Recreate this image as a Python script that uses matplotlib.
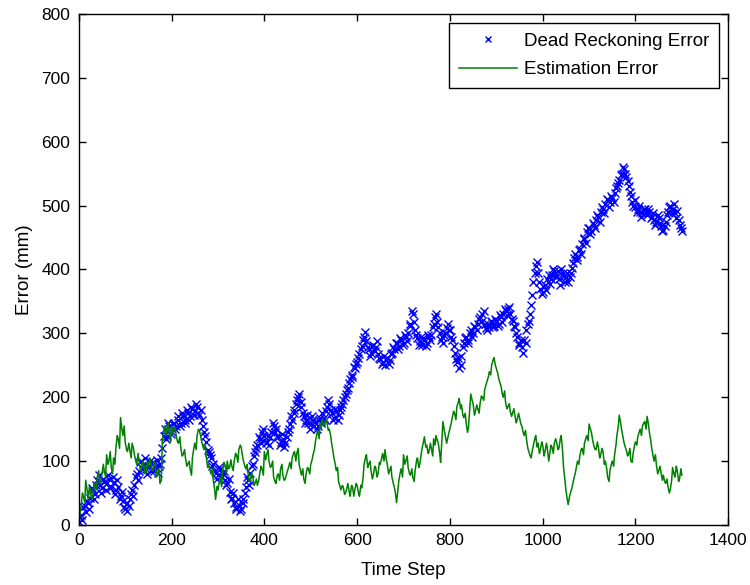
import numpy as np
import matplotlib
matplotlib.use("Agg")
import matplotlib.pyplot as plt

# errors sampled on two interleaved grids: t = 0,5,...,1300 and t = 3,8,...,1298
step = np.arange(0, 1301, 5)
step_mid = np.arange(3, 1300, 5)

dead_reckoning = [
    5, 15, 28, 20, 35, 42, 55, 48, 70, 62, 58, 68, 65, 72, 60, 68, 55, 60, 45, 38,
    25, 22, 40, 55, 62, 80, 85, 100, 95, 88, 92, 85, 98, 90, 82, 95, 120, 150, 140, 155,
    145, 160, 155, 165, 160, 170, 165, 175, 170, 182, 178, 185, 172, 165, 145, 130, 115, 105, 95, 82,
    78, 88, 80, 70, 65, 52, 42, 35, 28, 32, 25, 40, 60, 70, 82, 95, 115, 125, 135, 145,
    140, 130, 125, 145, 155, 150, 138, 130, 135, 128, 145, 158, 165, 180, 195, 205, 185, 170, 165, 160,
    158, 165, 162, 155, 168, 175, 165, 185, 190, 175, 168, 178, 172, 185, 195, 205, 215, 228, 235, 245,
    255, 268, 280, 295, 288, 275, 270, 282, 278, 268, 260, 255, 250, 262, 258, 270, 275, 285, 280, 290,
    285, 295, 300, 315, 330, 305, 292, 288, 282, 290, 285, 295, 298, 315, 330, 310, 290, 285, 300, 315,
    305, 290, 270, 255, 245, 265, 285, 295, 290, 305, 300, 310, 315, 325, 330, 315, 305, 310, 318, 312,
    320, 315, 325, 330, 335, 338, 330, 320, 310, 295, 282, 278, 290, 305, 320, 345, 380, 405, 395, 370,
    365, 375, 385, 378, 392, 398, 390, 385, 400, 390, 388, 380, 395, 410, 425, 420, 432, 440, 450, 458,
    465, 460, 470, 478, 482, 490, 495, 502, 508, 505, 512, 520, 530, 540, 550, 558, 545, 530, 515, 500,
    498, 495, 490, 488, 495, 485, 490, 482, 478, 475, 480, 468, 462, 475, 490, 500, 495, 488, 492, 470,
    460,
]
dead_reckoning_mid = [
    12, 8, 30, 38, 25, 58, 40, 62, 78, 50, 72, 55, 78, 58, 75, 48, 70, 40, 52, 28,
    35, 30, 48, 45, 75, 70, 98, 88, 105, 80, 100, 95, 85, 102, 92, 105, 140, 135, 160, 142,
    158, 150, 170, 155, 175, 160, 180, 165, 185, 172, 190, 175, 180, 155, 140, 118, 110, 92, 85, 72,
    90, 75, 85, 62, 72, 40, 50, 25, 40, 22, 35, 50, 75, 62, 92, 108, 120, 138, 128, 150,
    128, 140, 138, 160, 145, 140, 125, 142, 122, 138, 150, 170, 175, 190, 200, 192, 175, 160, 172, 150,
    170, 155, 150, 165, 160, 168, 178, 195, 180, 165, 182, 165, 180, 190, 200, 212, 222, 232, 248, 252,
    262, 275, 290, 302, 278, 265, 280, 272, 288, 262, 252, 265, 258, 252, 268, 278, 285, 275, 292, 282,
    298, 288, 312, 335, 318, 298, 282, 295, 292, 280, 298, 290, 310, 325, 318, 300, 295, 298, 308, 305,
    295, 280, 260, 262, 250, 278, 292, 285, 300, 295, 312, 305, 322, 318, 335, 308, 315, 320, 310, 322,
    312, 328, 318, 338, 328, 342, 322, 312, 300, 285, 290, 270, 285, 315, 330, 360, 395, 412, 380, 362,
    372, 368, 392, 385, 400, 388, 398, 375, 395, 380, 395, 388, 402, 418, 415, 430, 425, 448, 442, 465,
    455, 472, 465, 485, 475, 498, 488, 510, 498, 515, 505, 528, 535, 548, 560, 550, 538, 522, 505, 508,
    490, 500, 482, 495, 488, 495, 480, 488, 470, 485, 472, 460, 468, 485, 498, 488, 502, 480, 478, 465,
]

estimation = [
    0, 30, 45, 70, 40, 55, 45, 60, 75, 65, 80, 85, 110, 100, 90, 105, 120, 135, 168, 140,
    130, 115, 118, 128, 110, 95, 100, 88, 95, 82, 92, 98, 88, 92, 80, 65, 130, 155, 150, 145,
    155, 148, 140, 128, 120, 110, 105, 95, 88, 105, 128, 140, 148, 130, 118, 105, 95, 80, 70, 40,
    55, 75, 85, 95, 100, 90, 92, 100, 110, 118, 122, 100, 88, 80, 70, 75, 65, 62, 80, 88,
    115, 110, 100, 92, 75, 65, 80, 88, 78, 72, 85, 98, 105, 115, 112, 95, 78, 72, 80, 88,
    95, 110, 130, 148, 160, 165, 155, 160, 150, 128, 105, 85, 68, 55, 60, 50, 65, 45, 60, 55,
    62, 45, 58, 95, 110, 95, 85, 78, 90, 80, 95, 112, 118, 95, 85, 75, 60, 35, 70, 88,
    110, 100, 90, 78, 75, 85, 105, 95, 120, 138, 125, 115, 120, 135, 140, 128, 98, 162, 140, 135,
    150, 168, 175, 185, 198, 188, 168, 160, 152, 205, 190, 178, 182, 190, 200, 212, 225, 240, 250, 262,
    245, 230, 218, 200, 192, 185, 178, 175, 172, 165, 168, 155, 140, 135, 115, 105, 125, 140, 128, 118,
    125, 115, 120, 110, 122, 128, 130, 120, 140, 90, 55, 32, 50, 65, 80, 100, 108, 120, 128, 140,
    158, 145, 125, 118, 122, 110, 115, 100, 75, 85, 100, 110, 140, 172, 150, 130, 118, 110, 100, 112,
    130, 138, 150, 155, 162, 170, 145, 120, 100, 95, 85, 82, 78, 65, 60, 55, 90, 75, 85, 72,
    78,
]
estimation_mid = [
    20, 50, 35, 55, 60, 40, 65, 55, 85, 70, 95, 75, 95, 115, 80, 95, 140, 120, 150, 155,
    118, 128, 105, 120, 100, 112, 85, 100, 80, 98, 105, 85, 100, 75, 88, 70, 148, 140, 160, 130,
    142, 152, 130, 138, 108, 118, 92, 100, 78, 120, 118, 150, 138, 122, 125, 90, 85, 88, 55, 60,
    68, 60, 98, 82, 88, 102, 85, 112, 98, 125, 108, 92, 95, 68, 82, 62, 72, 70, 92, 78,
    102, 118, 90, 100, 68, 78, 70, 95, 70, 80, 92, 88, 112, 100, 120, 85, 88, 65, 90, 80,
    102, 118, 142, 135, 152, 158, 165, 148, 140, 115, 95, 90, 60, 62, 48, 58, 52, 62, 45, 65,
    50, 62, 75, 105, 90, 100, 72, 92, 75, 98, 105, 100, 102, 80, 92, 65, 48, 55, 82, 75,
    95, 108, 80, 88, 68, 100, 90, 110, 130, 122, 112, 128, 108, 125, 132, 112, 135, 148, 128, 145,
    160, 178, 165, 192, 182, 172, 175, 145, 185, 195, 172, 188, 175, 202, 195, 220, 232, 235, 258, 250,
    238, 222, 205, 210, 182, 190, 170, 182, 160, 175, 158, 145, 148, 120, 108, 118, 135, 122, 112, 130,
    108, 128, 100, 125, 112, 135, 118, 135, 115, 70, 40, 45, 58, 75, 92, 95, 118, 110, 135, 132,
    150, 132, 118, 130, 105, 120, 95, 88, 68, 95, 92, 125, 155, 160, 138, 122, 108, 120, 98, 125,
    125, 145, 140, 160, 150, 158, 132, 108, 110, 80, 92, 70, 68, 72, 50, 70, 80, 92, 68, 88,
]

# merge the two grids into one time-ordered series
t_all = np.concatenate([step, step_mid])
order = np.argsort(t_all, kind='stable')
t_all = t_all[order]
dr_all = np.concatenate([dead_reckoning, dead_reckoning_mid])[order]
est_all = np.concatenate([estimation, estimation_mid])[order]

plt.rcParams['font.family'] = ['Liberation Sans', 'DejaVu Sans']

fig = plt.figure(figsize=(7.5, 5.85), dpi=100)
ax = fig.add_axes([0.105, 0.1026, 0.866, 0.8735])

ax.plot(t_all, dr_all, linestyle='none', marker='x', color='#0000ff',
        markersize=6, markeredgewidth=1.0, label='Dead Reckoning Error')
ax.plot(t_all, est_all, color='#008000', linewidth=1.1, label='Estimation Error')

ax.set_xlim(0, 1400)
ax.set_ylim(0, 800)
ax.set_xticks(np.arange(0, 1401, 200))
ax.set_yticks(np.arange(0, 801, 100))
ax.tick_params(direction='in', top=True, right=True, length=5, width=1,
               labelsize=12.5, pad=6)
for sp in ax.spines.values():
    sp.set_linewidth(1.0)

ax.set_xlabel('Time Step', fontsize=13.5, labelpad=10)
ax.set_ylabel('Error (mm)', fontsize=13.5, labelpad=6)

leg = ax.legend(loc='upper right', fancybox=False, edgecolor='black', fontsize=13.5,
                handlelength=3.1, handletextpad=0.4, labelspacing=0.6,
                borderpad=0.5, borderaxespad=0.5, framealpha=1, markerscale=0.8)
leg.get_frame().set_linewidth(1.0)

fig.savefig('out.png', dpi=100)
